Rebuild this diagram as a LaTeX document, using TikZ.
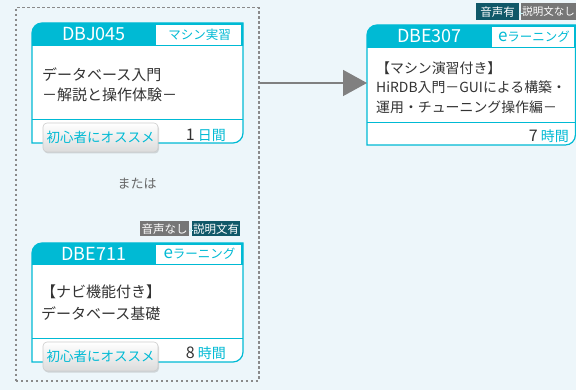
\documentclass[tikz,border=0pt]{standalone}
\usepackage{fontspec}
\setmainfont{Noto Sans CJK JP}
\usetikzlibrary{arrows.meta,shadows}
\definecolor{bgc}{RGB}{237,246,250}
\definecolor{cy}{RGB}{0,186,212}
\definecolor{txt}{RGB}{51,51,51}
\definecolor{bteal}{RGB}{16,88,104}
\definecolor{bgrey}{RGB}{118,118,118}
\definecolor{arr}{RGB}{128,128,128}
\definecolor{dashc}{RGB}{138,138,138}
\newcommand\mycard[7]{%
  \fill[white] (#1,#4) -- (#1,#2+10) .. controls (#1,#2+4.5) and (#1+4.5,#2) .. (#1+10,#2) -- (#3,#2) -- (#3,#4-10) .. controls (#3,#4-4.5) and (#3-4.5,#4) .. (#3-10,#4) -- cycle;
  \fill[cy] (#1,#5) -- (#1,#2+10) .. controls (#1,#2+4.5) and (#1+4.5,#2) .. (#1+10,#2) -- (#3,#2) -- (#3,#5) -- cycle;
  \fill[white] (#6,#2+1.6) rectangle (#3-1.6,#5-0.6);
  \draw[cy,line width=1pt] (#1,#7) -- (#3,#7);
  \draw[cy,line width=1.2pt] (#1,#4) -- (#1,#2+10) .. controls (#1,#2+4.5) and (#1+4.5,#2) .. (#1+10,#2) -- (#3,#2) -- (#3,#4-10) .. controls (#3,#4-4.5) and (#3-4.5,#4) .. (#3-10,#4) -- cycle;
}
\tikzset{
  hid/.style={text=white,inner sep=0,font=\fontsize{18}{18}\selectfont},
  typ/.style={text=cy,inner sep=0,font=\fontsize{12.5}{12.5}\selectfont},
  body/.style={text=txt,inner sep=0,anchor=west,align=left},
  dur/.style={inner sep=0,anchor=east,text=cy,font=\fontsize{14}{14}\selectfont},
  btn/.style={rounded corners=4pt,minimum width=115pt,minimum height=29pt,inner sep=0,
    top color=white,bottom color=black!14,draw=black!20,line width=0.6pt,text=cy,
    font=\fontsize{13.5}{13.5}\selectfont,
    drop shadow={opacity=0.28,shadow xshift=1pt,shadow yshift=-1.5pt}},
  badge/.style={inner sep=0,text=white,minimum height=15pt,font=\fontsize{11.5}{11.5}\selectfont},
  plus/.style={white!80!cy,line width=0.8pt},
  frame/.style={inner sep=0,anchor=north west}
}
\begin{document}
\begin{tikzpicture}[x=1pt,y=-1pt]
\fill[bgc] (0,0) rectangle (576,390);
\useasboundingbox (0,0) rectangle (576,390);

% group box
\node[frame,draw=dashc,line width=1.5pt,dash pattern=on 2.5pt off 2.5pt,minimum width=243pt,minimum height=373pt] (grp) at (15,7) {};

% card DBJ045
\node[frame,minimum width=211pt,minimum height=120pt] (c1) at (32,23) {};
\mycard{32}{23}{243}{143}{46}{156}{120}
\node[hid] (c1id) at (94,34.5) {DBJ045};
\node[typ] (c1t) at (199.5,34.5) {マシン実習};
\node[body,font=\fontsize{15}{20}\selectfont] (c1b) at (42,84.5) {データベース入門\\－解説と操作体験－};
\node[btn] (c1btn) at (100.5,137.5) {初心者にオススメ};
\node[dur] (c1d) at (226,135) {{\color{txt}\fontsize{16}{16}\selectfont 1} 日間};

% または
\node[text=black!60,inner sep=0,font=\fontsize{13}{13}\selectfont] (or) at (137,184) {または};

% card DBE711
\node[badge,fill=bgrey,minimum width=49pt] (b2a) at (164.5,229) {音声なし};
\node[badge,fill=bteal,minimum width=48pt] (b2b) at (216,229) {説明文有};
\draw[plus] (188.5,230) -- (192.5,230) (190.5,228) -- (190.5,232);
\node[frame,minimum width=211pt,minimum height=119pt] (c2) at (32,243) {};
\mycard{32}{243}{243}{362}{265}{156}{338}
\node[hid] (c2id) at (94,254) {DBE711};
\node[typ] (c2t) at (199.5,254) {{\fontsize{17}{17}\selectfont e}ラーニング};
\node[body,font=\fontsize{15}{22}\selectfont] (c2b) at (41,302.5) {【ナビ機能付き】\\データベース基礎};
\node[btn] (c2btn) at (100.5,356.5) {初心者にオススメ};
\node[dur] (c2d) at (226,353) {{\color{txt}\fontsize{16}{16}\selectfont 8} 時間};

% card DBE307
\node[badge,fill=bteal,minimum width=43pt,minimum height=17pt] (b3a) at (497.5,12) {音声有};
\node[badge,fill=bgrey,minimum width=55pt,minimum height=17pt,font=\fontsize{10.5}{10.5}\selectfont] (b3b) at (548.5,12) {説明文なし};
\draw[plus] (518.5,13) -- (522.5,13) (520.5,11) -- (520.5,15);
\node[frame,minimum width=208.4pt,minimum height=120pt] (c3) at (367,25) {};
\mycard{367}{25}{575.4}{145}{48}{492}{123}
\node[hid] (c3id) at (429.5,36.5) {DBE307};
\node[typ] (c3t) at (534,36.5) {{\fontsize{17}{17}\selectfont e}ラーニング};
\node[body,font=\fontsize{13.9}{19.7}\selectfont] (c3b) at (376,87.5) {【マシン演習付き】\\HiRDB入門－GUIによる構築・\\運用・チューニング操作編－};
\node[dur] (c3d) at (569,136) {{\color{txt}\fontsize{16}{16}\selectfont 7} 時間};

% connector
\draw[arr,line width=1.5pt,-{Triangle[length=24pt,width=26pt]}] (grp.east |- 0,83) -- (c3.west |- 0,83);
\end{tikzpicture}
\end{document}
